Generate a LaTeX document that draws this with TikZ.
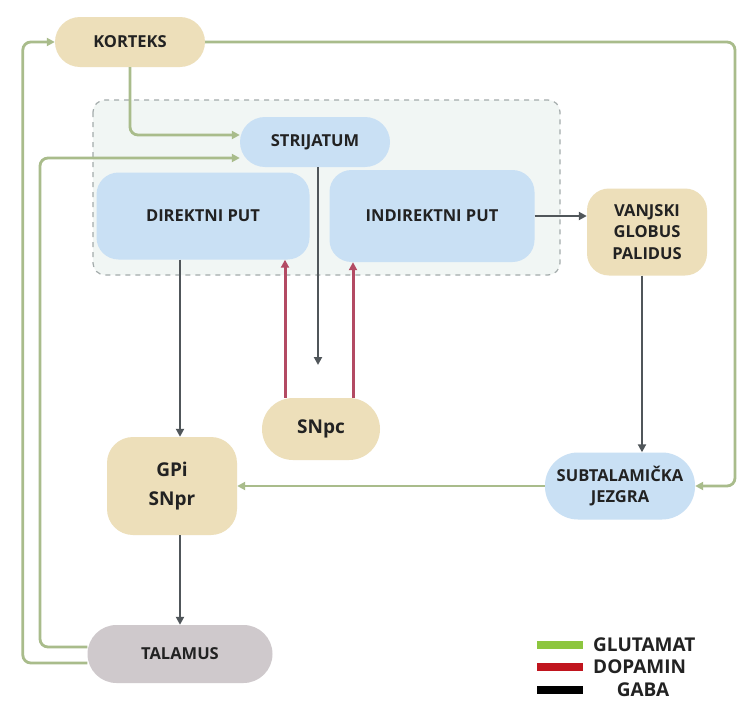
\documentclass[tikz,border=0pt]{standalone}
\usepackage{fontspec}
\setmainfont{Open Sans}
\usetikzlibrary{arrows.meta}
\definecolor{tanbox}{HTML}{EDDFBA}
\definecolor{bluebox}{HTML}{C9E0F4}
\definecolor{greybox}{HTML}{CFC9CC}
\definecolor{zonefill}{HTML}{F1F6F4}
\definecolor{zoneline}{HTML}{A3ABAB}
\definecolor{glucol}{HTML}{A9BC8B}
\definecolor{gabacol}{HTML}{50565A}
\definecolor{dopacol}{HTML}{B34A63}
\definecolor{txtcol}{HTML}{222222}
\definecolor{keyglu}{HTML}{8DC63F}
\definecolor{keydop}{HTML}{C0151E}
\begin{document}
\begin{tikzpicture}[x=1pt,y=-1pt,
    nuc/.style={inner sep=0pt, align=center, text=txtcol,
      font=\bfseries\fontsize{16.5}{21.5}\selectfont},
    big/.style={font=\bfseries\fontsize{19}{29}\selectfont},
    glu/.style={line width=2.8pt, draw=glucol, rounded corners=8pt,
      -{Triangle[length=8pt,width=8pt]}},
    gaba/.style={line width=2.6pt, draw=gabacol,
      -{Triangle[length=8pt,width=8pt]}},
    dopa/.style={line width=3pt, draw=dopacol,
      -{Triangle[length=8pt,width=8pt]}},
    key/.style={inner sep=0pt, anchor=west, text=txtcol,
      font=\bfseries\fontsize{19}{22}\selectfont}]
  \useasboundingbox[fill=white] (0,0) rectangle (740,704);

  % Strijatum zona
  \draw[zoneline, fill=zonefill, line width=1.2pt, rounded corners=12pt,
    dash pattern=on 5pt off 5pt] (93,100) rectangle (560,275);

  % Jezgre
  \node[nuc, fill=tanbox, minimum width=150pt, minimum height=50pt,
    rounded corners=25pt] (kort) at (130,42) {KORTEKS};
  \node[nuc, fill=bluebox, minimum width=150pt, minimum height=50pt,
    rounded corners=25pt] (stri) at (315,142) {STRIJATUM};
  \node[nuc, fill=bluebox, minimum width=213pt, minimum height=87pt,
    rounded corners=22pt] (dir) at (203,216) {DIREKTNI PUT};
  \node[nuc, fill=bluebox, minimum width=205pt, minimum height=92pt,
    rounded corners=22pt] (ind) at (432,216) {INDIREKTNI PUT};
  \node[nuc, fill=tanbox, minimum width=120pt, minimum height=87pt,
    rounded corners=22pt] (vgp) at (647,232) {VANJSKI\\GLOBUS\\PALIDUS};
  \node[nuc, big, fill=tanbox, minimum width=118pt, minimum height=62pt,
    rounded corners=31pt] (snpc) at (321,429) {SNpc};
  \node[nuc, big, fill=tanbox, minimum width=130pt, minimum height=98pt,
    rounded corners=26pt] (gpi) at (172,486) {GPi\\SNpr};
  \node[nuc, fill=bluebox, minimum width=150pt, minimum height=67pt,
    rounded corners=33pt] (stn) at (620,486) {SUBTALAMIČKA\\JEZGRA};
  \node[nuc, fill=greybox, minimum width=185pt, minimum height=58pt,
    rounded corners=29pt] (tal) at (180,654) {TALAMUS};

  % Glutamat
  \coordinate (rgt) at (735,42);
  \coordinate (lft) at (40,158);
  \draw[glu] (kort.east) -- (rgt) |- (stn.east);
  \draw[glu] (kort.south) |- ([yshift=7pt]stri.west);
  \draw[glu] ([yshift=-9pt]tal.west) -| ([xshift=-32pt]kort.west) -- (kort.west);
  \draw[glu] ([yshift=7pt]tal.west) -| (lft) -- ([yshift=-16pt]stri.west);
  \draw[glu] (stn.west) -- (gpi.east);

  % GABA
  \coordinate (stop) at (318,365);
  \draw[gaba] (stri.south -| stop) -- (stop);
  \draw[gaba] ([xshift=8pt]gpi.north |- dir.south) -- ([xshift=8pt]gpi.north);
  \draw[gaba] (ind.east) -- (ind.east -| vgp.west);
  \draw[gaba] ([xshift=-5pt]vgp.south) -- ([xshift=-5pt]vgp.south |- stn.north);
  \draw[gaba] ([xshift=8pt]gpi.south) -- ([xshift=8pt]gpi.south |- tal.north);

  % Dopamin
  \draw[dopa] ([xshift=-36pt]snpc.north) -- ([xshift=-36pt]snpc.north |- dir.south);
  \draw[dopa] ([xshift=32pt]snpc.north) -- ([xshift=32pt]snpc.north |- ind.south);

  % Legenda
  \draw[line width=8pt, draw=keyglu] (537,645) -- (583,645);
  \draw[line width=8pt, draw=keydop] (537,667) -- (583,667);
  \draw[line width=8pt, draw=black] (537,690) -- (583,690);
  \node[key] (kglu) at (593,645) {GLUTAMAT};
  \node[key] (kdop) at (593,667) {DOPAMIN};
  \node[key, anchor=center] (kgab) at (643,690) {GABA};
\end{tikzpicture}
\end{document}
